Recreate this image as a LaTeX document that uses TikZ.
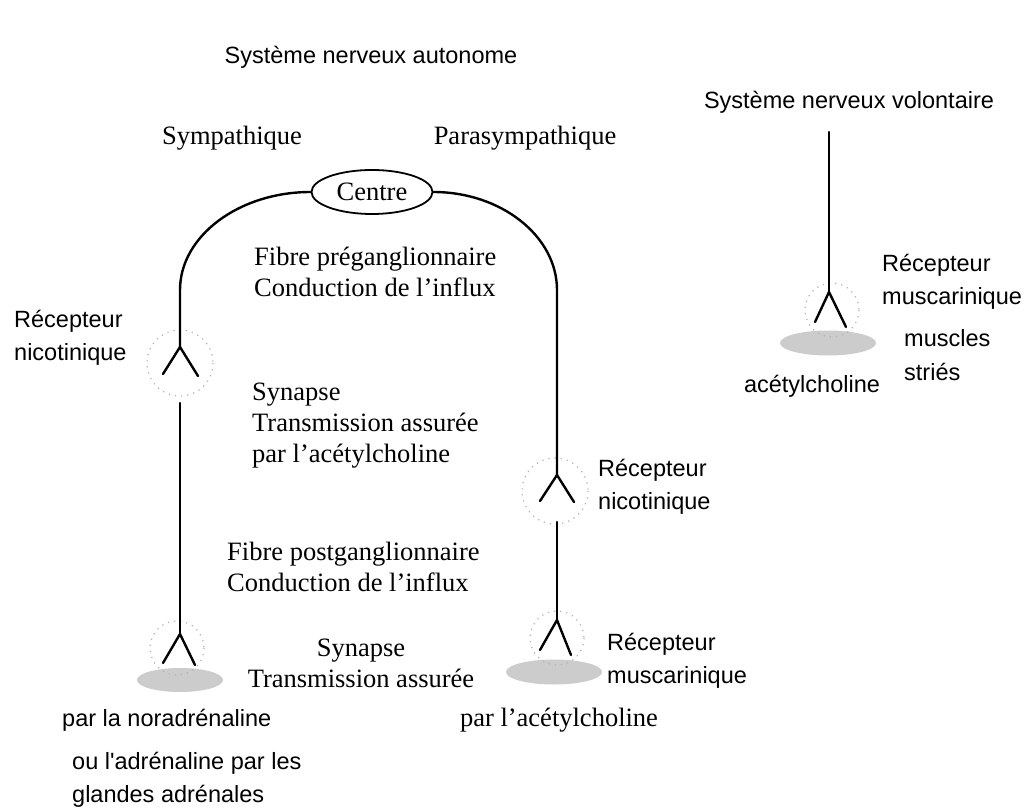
\documentclass[tikz,border=0pt]{standalone}
\usepackage{fontspec}
\setmainfont{Liberation Serif}
\newfontfamily\handfont{Liberation Sans}
\usetikzlibrary{shapes.geometric}

\begin{document}
\begin{tikzpicture}[x=1pt,y=-1pt,
  serif/.style={font=\fontsize{26.5}{31}\selectfont, inner sep=0pt, align=left},
  hand/.style={font=\handfont\fontsize{23.5}{33.5}\selectfont, inner sep=0pt, align=left},
  fibre/.style={line width=2.4pt, black, line cap=round, line join=round},
  ring/.style={draw=black!30, line width=1.2pt, dash pattern=on 1.2pt off 5pt},
  target/.style={fill=black!20, draw=none},
]
\useasboundingbox (0,0) rectangle (1025,810);
\fill[white] (0,0) rectangle (1025,810);

% ---- headings
\node[hand]  (auto)  at (371,57)  {Système nerveux autonome};
\node[hand]  (volo)  at (849,102) {Système nerveux volontaire};
\node[serif] (symp)  at (232,138) {Sympathique};
\node[serif] (para)  at (525,138) {Parasympathique};

% ---- nerve centre
\node[serif, draw, ellipse, line width=1.8pt, minimum width=121pt, minimum height=44pt, inner sep=0pt]
  (centre) at (372,192) {Centre};

% ---- junction points of the receptors
\coordinate (jA) at (180,347);
\coordinate (jB) at (180,634);
\coordinate (jC) at (557,475);
\coordinate (jD) at (557,620);
\coordinate (jE) at (829,292);

% targets (grey) and receptor halos (dotted)
\fill[target] (180,680) ellipse [x radius=43, y radius=12];
\fill[target] (554,672) ellipse [x radius=48, y radius=12.5];
\fill[target] (828,343) ellipse [x radius=48, y radius=12.5];
\draw[ring] (180,363) circle [radius=33];
\draw[ring] (177,648) circle [radius=27];
\draw[ring] (555,491) circle [radius=33];
\draw[ring] (557,638) circle [radius=27];
\draw[ring] (832,310) circle [radius=27];

% ---- fibres
% sympathetic preganglionic fibre
\draw[fibre] (centre.west) .. controls (239,192) and (180,236) .. (180,290) -- (jA);
% parasympathetic preganglionic fibre
\draw[fibre] (centre.east) .. controls (501,192) and (557,236) .. (557,290) -- (jC);
% postganglionic fibres
\coordinate (sA) at (180,403);
\coordinate (sC) at (557,522);
\draw[fibre] (sA) -- (jB);
\draw[fibre] (sC) -- (jD);
% voluntary motor fibre
\coordinate (sE) at (829,132);
\draw[fibre] (sE) -- (jE);

% receptor arms
\draw[fibre] (163,374) -- (jA) -- (198,376);
\draw[fibre] (163,663) -- (jB) -- (195,665);
\draw[fibre] (540,501) -- (jC) -- (574,502);
\draw[fibre] (540,650) -- (jD) -- (571,655);
\draw[fibre] (815,322) -- (jE) -- (846,327);

% ---- labels
\node[serif, anchor=west] (pre)   at (254,272) {Fibre préganglionnaire\\Conduction de l'influx};
\node[hand,  anchor=west] (recA)  at (14,338)  {Récepteur\\nicotinique};
\node[serif, anchor=west] (synA)  at (252,426) {Synapse\\Transmission assurée\\par l'acétylcholine};
\node[serif, anchor=west] (post)  at (227,567) {Fibre postganglionnaire\\Conduction de l'influx};
\node[serif, align=center] (synB) at (361,663) {Synapse\\Transmission assurée};
\node[hand,  anchor=west] (recC)  at (598,487) {Récepteur\\nicotinique};
\node[hand,  anchor=west] (recD)  at (607,661) {Récepteur\\muscarinique};
\node[hand,  anchor=west] (nor)   at (62,720)  {par la noradrénaline};
\node[hand,  anchor=west] (adr)   at (72,780)  {ou l'adrénaline par les\\glandes adrénales};
\node[serif] (ach)   at (559,720) {par l'acétylcholine};
\node[hand,  anchor=west] (recE)  at (882,282) {Récepteur\\muscarinique};
\node[hand,  anchor=west] (musc)  at (904,355) {muscles\\striés};
\node[hand] (achE) at (812,386) {acétylcholine};

\end{tikzpicture}
\end{document}
